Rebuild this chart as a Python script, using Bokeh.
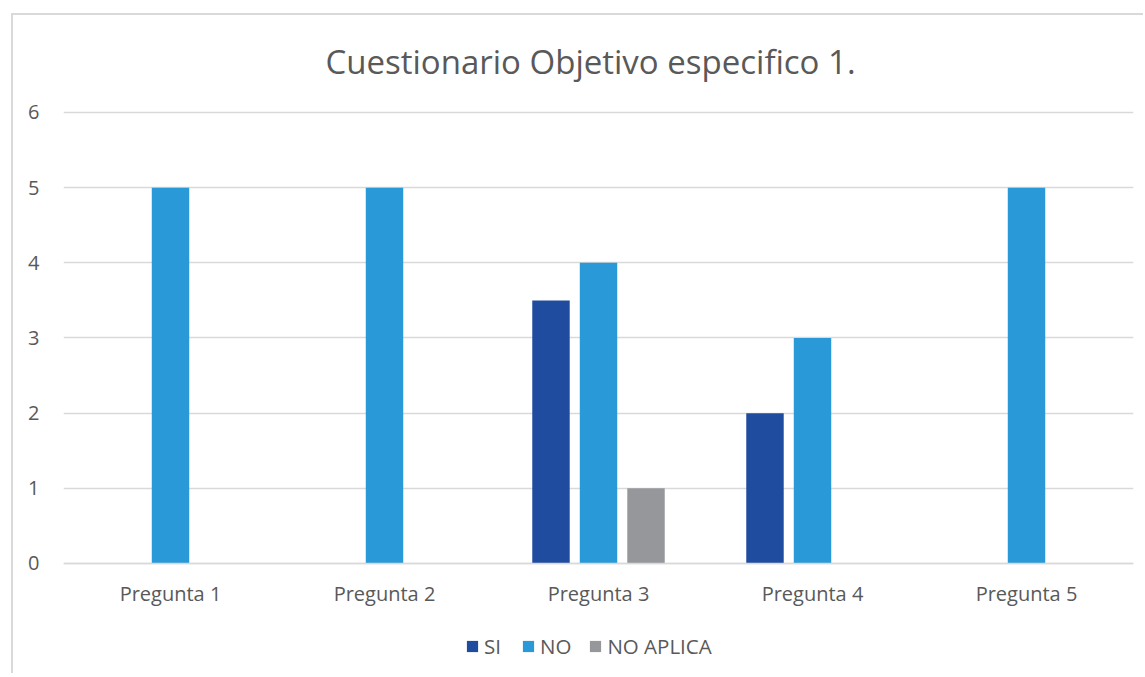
from bokeh.plotting import figure
from bokeh.models import ColumnDataSource, FactorRange, Legend, LegendItem, FixedTicker, Label
from bokeh.transform import dodge
from bokeh.embed import file_html
from bokeh.resources import INLINE

categories = ["Pregunta 1", "Pregunta 2", "Pregunta 3", "Pregunta 4", "Pregunta 5"]
si = [0, 0, 3.5, 2, 0]
no = [5, 5, 4, 3, 5]
no_aplica = [0, 0, 1, 0, 0]
series_names = ["SI", "NO", "NO APLICA"]
colors = ["#1f4c9f", "#2999d8", "#96979b"]
y_ticks = [0, 1, 2, 3, 4, 5, 6]
title_text = "Cuestionario Objetivo especifico 1."

FONT = "Open Sans"
TXT = "#595959"

src = ColumnDataSource(dict(cat=categories, SI=si, NO=no, NA=no_aplica))

p = figure(x_range=FactorRange(*categories), y_range=(-1.49, 7.29),
           width=1132, height=660, output_backend="svg", toolbar_location=None,
           min_border_left=50, min_border_right=12, min_border_top=0, min_border_bottom=0)
p.styles = {"margin-left": "11px", "margin-top": "13px",
            "border-top": "2px solid #d9d9d9", "border-left": "2px solid #d9d9d9"}
p.outline_line_color = None
p.background_fill_color = "white"
p.border_fill_color = "white"

offsets = [-0.222, 0.0, 0.222]
keys = ["SI", "NO", "NA"]
renderers = []
for k, off, c in zip(keys, offsets, colors):
    r = p.vbar(x=dodge("cat", off, range=p.x_range), top=k, bottom=0, width=0.175, source=src,
               fill_color=c, line_color=None)
    renderers.append(r)

p.add_layout(Label(x=262, y=614, x_units="screen", y_units="screen", text=title_text,
                   text_font=FONT, text_font_size="33px", text_color=TXT,
                   text_baseline="middle", text_align="left"))

p.yaxis.ticker = FixedTicker(ticks=y_ticks)
p.yaxis.axis_line_color = None
p.yaxis.major_tick_line_color = None
p.yaxis.minor_tick_line_color = None
p.yaxis.major_label_standoff = 18
p.yaxis.major_label_text_font = FONT
p.yaxis.major_label_text_font_size = "20px"
p.yaxis.major_label_text_color = TXT

p.xaxis.fixed_location = 0
p.xaxis.axis_line_color = "#d9d9d9"
p.xaxis.axis_line_width = 1.5
p.xaxis.major_tick_line_color = None
p.xaxis.minor_tick_line_color = None
p.xaxis.major_label_standoff = 11
p.xaxis.major_label_text_font = FONT
p.xaxis.major_label_text_font_size = "20px"
p.xaxis.major_label_text_color = TXT

p.xgrid.grid_line_color = None
p.ygrid.ticker = FixedTicker(ticks=y_ticks)
p.ygrid.grid_line_color = "#d9d9d9"
p.ygrid.grid_line_width = 1.5

legend = Legend(items=[LegendItem(label=n, renderers=[r]) for n, r in zip(series_names, renderers)],
                orientation="horizontal", location=(402, 15),
                glyph_width=14, glyph_height=14, label_height=20, label_standoff=5, spacing=17,
                padding=0, margin=0, border_line_color=None, background_fill_alpha=0,
                label_text_font=FONT, label_text_font_size="20.5px", label_text_color=TXT)
p.add_layout(legend, "center")

open("out.html", "w").write(file_html(p, INLINE))
